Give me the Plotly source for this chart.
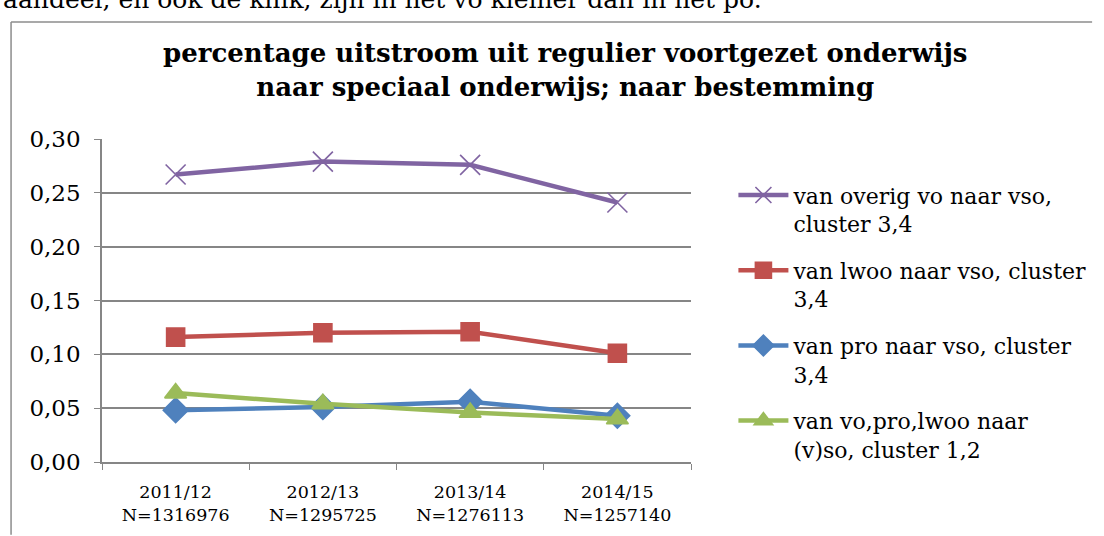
import plotly.graph_objects as go

years = ["2011/12", "2012/13", "2013/14", "2014/15"]
counts = ["N=1316976", "N=1295725", "N=1276113", "N=1257140"]
categories = [f"{y}<br>{n}" for y, n in zip(years, counts)]

overig_vo = [0.267, 0.279, 0.276, 0.241]
lwoo = [0.116, 0.120, 0.121, 0.101]
pro = [0.048, 0.051, 0.056, 0.043]
cluster_12 = [0.064, 0.054, 0.046, 0.040]

series = [
    ("van overig vo naar vso,<br>cluster 3,4", overig_vo, "#8064A2", "x-thin-open", 20),
    ("van lwoo naar vso, cluster<br>3,4", lwoo, "#C0504D", "square", 18),
    ("van pro naar vso, cluster<br>3,4", pro, "#4F81BD", "diamond", 19),
    ("van vo,pro,lwoo naar<br>(v)so, cluster 1,2", cluster_12, "#9BBB59", "triangle-up", 19),
]

SERIF = "DejaVu Serif, Liberation Serif, serif"
FRAME = dict(color="#8c8c8c", width=1.5)

fig = go.Figure()
for i, (name, vals, color, symbol, size) in enumerate(series):
    fig.add_trace(go.Scatter(
        x=categories, y=vals,
        mode="lines+markers",
        name=name,
        legendgroup=f"g{i}",
        line=dict(color=color, width=4.5),
        marker=dict(symbol=symbol, size=size, color=color,
                    line=dict(color=color, width=1.6)),
    ))

fig.update_layout(
    width=1104, height=536,
    paper_bgcolor="white", plot_bgcolor="white",
    separators=",.",
    margin=dict(l=102, r=406, t=139, b=74),
    font=dict(family=SERIF, color="black"),
    title=dict(
        text="<b>percentage uitstroom uit regulier voortgezet onderwijs<br>"
             "naar speciaal onderwijs; naar bestemming</b>",
        x=0.512, xanchor="center", y=0.884, yanchor="middle",
        font=dict(size=26, family=SERIF),
    ),
    showlegend=True,
    legend=dict(
        x=1.072, xanchor="left", y=0.891, yanchor="top",
        font=dict(size=22, family=SERIF),
        tracegroupgap=15,
        valign="top",
        itemwidth=50,
        bgcolor="rgba(0,0,0,0)",
    ),
    xaxis=dict(
        type="category",
        showgrid=False,
        showline=True, linecolor="#868686", linewidth=1.5,
        ticks="outside", tickson="boundaries", ticklen=6, tickcolor="#868686",
        tickfont=dict(size=17.5, family=SERIF),
        ticklabelstandoff=13,
        range=[-0.5, 3.5],
    ),
    yaxis=dict(
        range=[0, 0.30],
        dtick=0.05, tickformat=".2f",
        showgrid=True, gridcolor="#868686", gridwidth=1.5,
        showline=True, linecolor="#868686", linewidth=1.5,
        ticks="outside", ticklen=6, tickcolor="#868686",
        tickfont=dict(size=23, family=SERIF),
        ticklabelstandoff=9,
        zeroline=False,
    ),
    # chart frame: only the left and top edges fall inside the window
    shapes=[
        dict(type="line", xref="paper", yref="paper",
             x0=-0.1544, x1=-0.1544, y0=-0.225, y1=1.362, line=FRAME),
        dict(type="line", xref="paper", yref="paper",
             x0=-0.1544, x1=1.681, y0=1.362, y1=1.362, line=FRAME),
    ],
    annotations=[dict(
        text="aandeel, en ook de knik, zijn in het vo kleiner dan in het po.",
        xref="paper", yref="paper", x=-0.171, y=1.381,
        xanchor="left", yanchor="bottom", showarrow=False,
        font=dict(size=25, family=SERIF),
    )],
)

fig.write_html("out.html", config={"displayModeBar": False},
               post_script="document.body.style.margin='0';"
                           "document.body.style.overflow='hidden';")
